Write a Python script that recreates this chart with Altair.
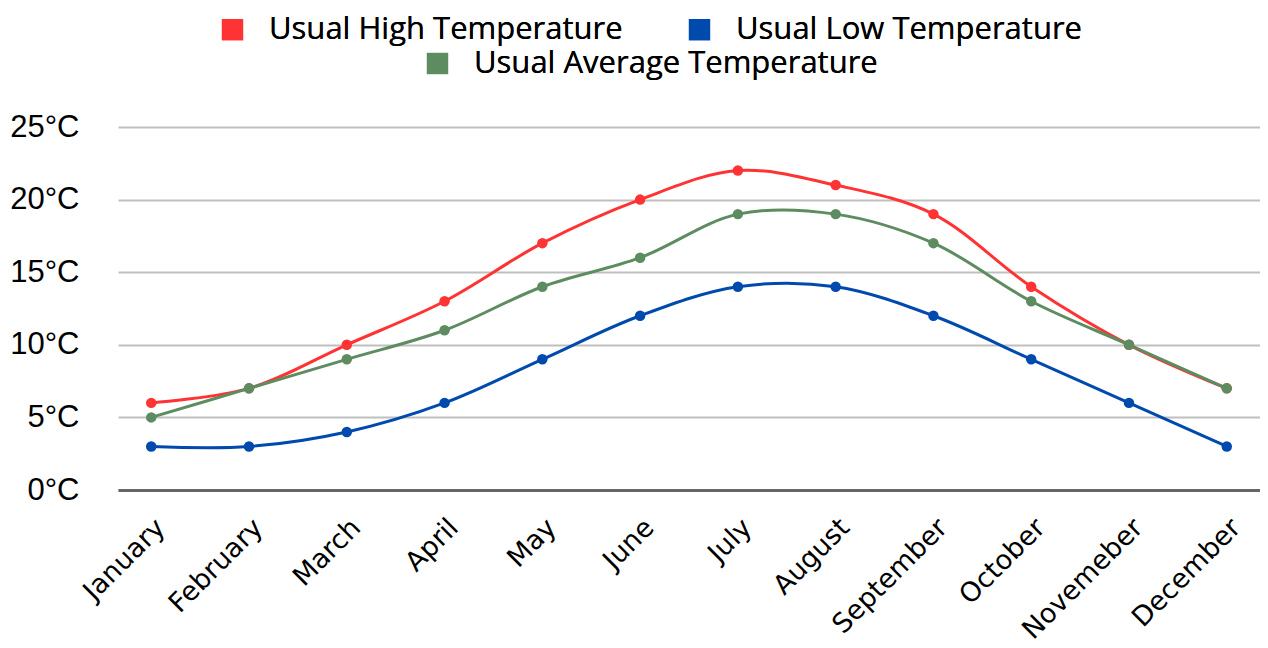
import altair as alt
import pandas as pd

months = ["January", "February", "March", "April", "May", "June", "July",
          "August", "September", "October", "Novemeber", "December"]
high = [6, 7, 10, 13, 17, 20, 22, 21, 19, 14, 10, 7]
low = [3, 3, 4, 6, 9, 12, 14, 14, 12, 9, 6, 3]
avg = [5, 7, 9, 11, 14, 16, 19, 19, 17, 13, 10, 7]

s_high = "Usual High Temperature"
s_low = "Usual Low Temperature"
s_avg = "Usual Average Temperature"

rows = []
for m, h, l, a in zip(months, high, low, avg):
    rows.append({"month": m, "series": s_high, "value": h})
    rows.append({"month": m, "series": s_low, "value": l})
    rows.append({"month": m, "series": s_avg, "value": a})
df = pd.DataFrame(rows)

RED = "#FF3333"
BLUE = "#004AAD"
GREEN = "#5E8C61"
LEGEND_FONT = "Open Sans"

x_enc = alt.X("month:N", sort=months,
              scale=alt.Scale(type="point", padding=0.34),
              axis=alt.Axis(title=None, labelAngle=-45, labelAlign="right",
                            labelBaseline="top", labelFont="DejaVu Sans",
                            labelFontSize=27, labelColor="#000000",
                            labelPadding=24, ticks=False, domain=True,
                            domainColor="#666666", domainWidth=3, grid=False))
y_enc = alt.Y("value:Q", scale=alt.Scale(domain=[0, 25], nice=False),
              axis=alt.Axis(title=None, values=[0, 5, 10, 15, 20, 25],
                            labelExpr="datum.value + '°C'",
                            labelFont="Liberation Sans", labelFontSize=31,
                            labelColor="#000000", labelPadding=39,
                            ticks=False, domain=False, grid=True,
                            gridColor="#BFBFBF", gridWidth=2))

hl = alt.Chart(df).transform_filter(
    alt.FieldOneOfPredicate(field="series", oneOf=[s_high, s_low]))
color_hl = alt.Color("series:N",
                     scale=alt.Scale(domain=[s_high, s_low], range=[RED, BLUE]),
                     legend=alt.Legend(title=None, orient="none", direction="horizontal",
                                       legendX=99, legendY=-113,
                                       symbolType="square", symbolSize=460,
                                       symbolStrokeWidth=0, labelFont=LEGEND_FONT,
                                       labelFontSize=31, labelColor="#000000",
                                       labelOffset=21, columnPadding=61,
                                       labelLimit=600))

av = alt.Chart(df).transform_filter(alt.datum.series == s_avg)
color_av = alt.Color("series:N",
                     scale=alt.Scale(domain=[s_avg], range=[GREEN]),
                     legend=alt.Legend(title=None, orient="none", direction="horizontal",
                                       legendX=304, legendY=-79,
                                       symbolType="square", symbolSize=460,
                                       symbolStrokeWidth=0, labelFont=LEGEND_FONT,
                                       labelFontSize=31, labelColor="#000000",
                                       labelOffset=21, labelLimit=600))

hl_line = hl.mark_line(interpolate="catmull-rom", strokeWidth=3).encode(
    x=x_enc, y=y_enc, color=color_hl, detail="series:N")
hl_pts = hl.mark_circle(size=110, opacity=1).encode(
    x=x_enc, y=y_enc, color=color_hl)
av_line = av.mark_line(interpolate="catmull-rom", strokeWidth=3).encode(
    x=x_enc, y=y_enc, color=color_av)
av_pts = av.mark_circle(size=110, opacity=1).encode(
    x=x_enc, y=y_enc, color=color_av)

chart = alt.layer(hl_line, hl_pts, av_line, av_pts).resolve_scale(
    color="independent"
).properties(
    width=1142, height=363,
    background="white",
    autosize=alt.AutoSizeParams(type="none"),
    padding={"left": 110, "top": 119, "right": 0, "bottom": 150},
).configure_view(strokeWidth=0)

chart.save("out.html", embed_options={"renderer": "svg", "actions": False})
